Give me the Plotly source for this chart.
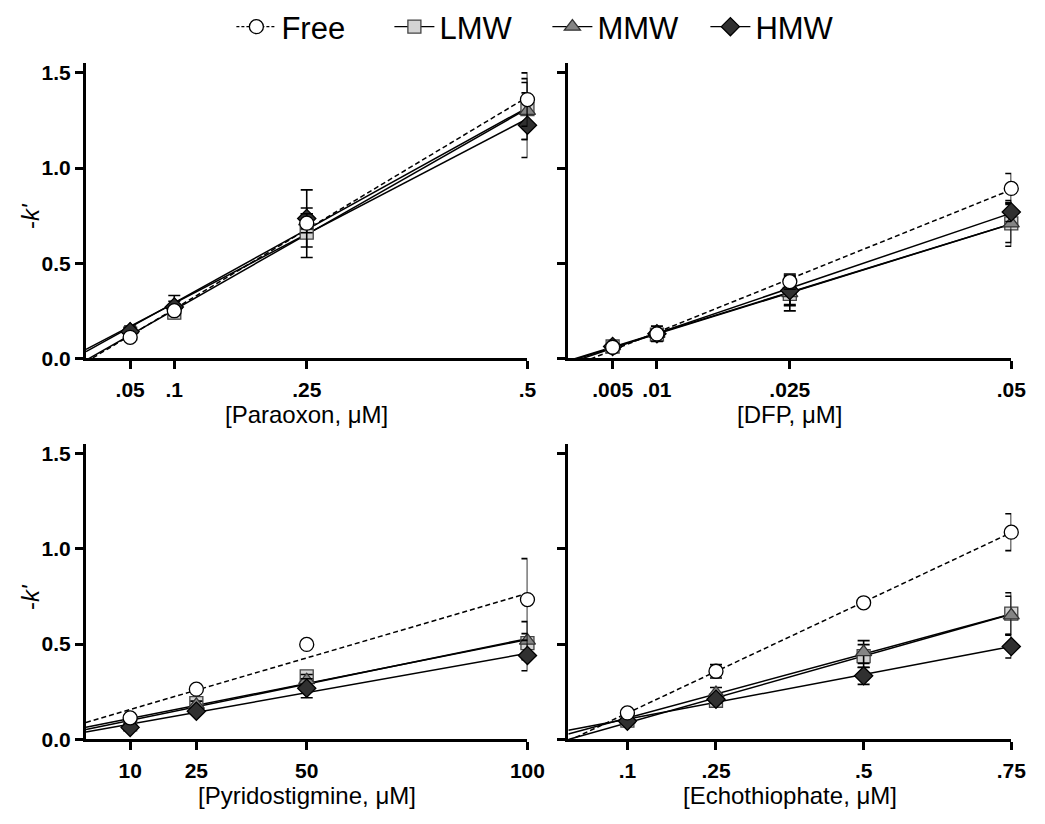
import numpy as np
import plotly.graph_objects as go

# Inhibitor concentrations (µM) and their tick labels
paraoxon_conc = [0.05, 0.1, 0.25, 0.5]
paraoxon_ticks = [".05", ".1", ".25", ".5"]
dfp_conc = [0.005, 0.01, 0.025, 0.05]
dfp_ticks = [".005", ".01", ".025", ".05"]
pyrido_conc = [10, 25, 50, 100]
pyrido_ticks = ["10", "25", "50", "100"]
echo_conc = [0.1, 0.25, 0.5, 0.75]
echo_ticks = [".1", ".25", ".5", ".75"]

# -k' means and SEM, paraoxon
paraoxon_free = [0.11, 0.25, 0.71, 1.36]
paraoxon_free_sem = [0.02, 0.02, 0.05, 0.14]
paraoxon_lmw = [0.13, 0.24, 0.66, 1.31]
paraoxon_lmw_sem = [0.02, 0.03, 0.13, 0.16]
paraoxon_mmw = [0.15, 0.28, 0.72, 1.30]
paraoxon_mmw_sem = [0.02, 0.05, 0.04, 0.15]
paraoxon_hmw = [0.14, 0.27, 0.735, 1.225]
paraoxon_hmw_sem = [0.02, 0.03, 0.15, 0.17]

# DFP
dfp_free = [0.058, 0.128, 0.403, 0.893]
dfp_free_sem = [0.01, 0.02, 0.04, 0.078]
dfp_lmw = [0.062, 0.124, 0.339, 0.709]
dfp_lmw_sem = [0.01, 0.015, 0.09, 0.12]
dfp_mmw = [0.064, 0.129, 0.342, 0.709]
dfp_mmw_sem = [0.01, 0.04, 0.06, 0.10]
dfp_hmw = [0.062, 0.129, 0.356, 0.769]
dfp_hmw_sem = [0.01, 0.02, 0.08, 0.05]

# Pyridostigmine
pyrido_free = [0.112, 0.263, 0.498, 0.734]
pyrido_free_sem = [0.01, 0.01, 0.01, 0.215]
pyrido_lmw = [0.078, 0.19, 0.33, 0.505]
pyrido_lmw_sem = [0.01, 0.02, 0.03, 0.05]
pyrido_mmw = [0.08, 0.18, 0.31, 0.518]
pyrido_mmw_sem = [0.01, 0.02, 0.03, 0.10]
pyrido_hmw = [0.062, 0.147, 0.268, 0.44]
pyrido_hmw_sem = [0.01, 0.01, 0.05, 0.08]

# Echothiophate
echo_free = [0.138, 0.357, 0.717, 1.088]
echo_free_sem = [0.01, 0.035, 0.01, 0.097]
echo_lmw = [0.098, 0.202, 0.437, 0.66]
echo_lmw_sem = [0.01, 0.03, 0.06, 0.11]
echo_mmw = [0.104, 0.242, 0.458, 0.651]
echo_mmw_sem = [0.01, 0.03, 0.06, 0.10]
echo_hmw = [0.095, 0.21, 0.333, 0.487]
echo_hmw_sem = [0.01, 0.02, 0.045, 0.06]

groups = ["Free", "LMW", "MMW", "HMW"]

FONT = "Liberation Sans, Arial, sans-serif"
W, H = 1045, 824

styles = {
    "Free": dict(symbol="circle", fill="white", line="#000000", size=14, dash="5px,3px", legdash="3px,2px"),
    "LMW": dict(symbol="square", fill="#d4d4d4", line="#444444", size=13, dash="solid", legdash="solid"),
    "MMW": dict(symbol="triangle-up", fill="#858585", line="#333333", size=14, dash="solid", legdash="solid"),
    "HMW": dict(symbol="diamond", fill="#303030", line="#000000", size=14, dash="solid", legdash="solid"),
}

# panel geometry in pixels: (left, right) and (top, bottom)
cols_px = [(87.5, 536.7), (578.3, 1029.0)]
rows_px = [(62.0, 362.0), (449.0, 749.0)]
YMAX = 1.552

panels = [
    dict(ax="", row=0, col=0, conc=paraoxon_conc, ticks=paraoxon_ticks, xr=[0, 0.5],
         title="[Paraoxon, μM]",
         data={"Free": (paraoxon_free, paraoxon_free_sem), "LMW": (paraoxon_lmw, paraoxon_lmw_sem),
               "MMW": (paraoxon_mmw, paraoxon_mmw_sem), "HMW": (paraoxon_hmw, paraoxon_hmw_sem)}),
    dict(ax="2", row=0, col=1, conc=dfp_conc, ticks=dfp_ticks, xr=[0, 0.05],
         title="[DFP, μM]",
         data={"Free": (dfp_free, dfp_free_sem), "LMW": (dfp_lmw, dfp_lmw_sem),
               "MMW": (dfp_mmw, dfp_mmw_sem), "HMW": (dfp_hmw, dfp_hmw_sem)}),
    dict(ax="3", row=1, col=0, conc=pyrido_conc, ticks=pyrido_ticks, xr=[0, 100],
         title="[Pyridostigmine, μM]",
         data={"Free": (pyrido_free, pyrido_free_sem), "LMW": (pyrido_lmw, pyrido_lmw_sem),
               "MMW": (pyrido_mmw, pyrido_mmw_sem), "HMW": (pyrido_hmw, pyrido_hmw_sem)}),
    dict(ax="4", row=1, col=1, conc=echo_conc, ticks=echo_ticks, xr=[0, 0.75],
         title="[Echothiophate, μM]",
         data={"Free": (echo_free, echo_free_sem), "LMW": (echo_lmw, echo_lmw_sem),
               "MMW": (echo_mmw, echo_mmw_sem), "HMW": (echo_hmw, echo_hmw_sem)}),
]

fig = go.Figure()
layout = dict(
    width=W, height=H, margin=dict(l=0, r=0, t=0, b=0),
    paper_bgcolor="white", plot_bgcolor="white",
    font=dict(family=FONT, color="black"),
    showlegend=True,
    legend=dict(orientation="h", x=0.533, xanchor="center", y=1 - 25 / H, yanchor="middle",
                font=dict(family=FONT, size=31, color="black"),
                itemwidth=40, entrywidth=103, entrywidthmode="pixels",
                tracegroupgap=0, bgcolor="rgba(0,0,0,0)"),
)
annotations = []

for p in panels:
    ax = p["ax"]
    x0, x1 = cols_px[p["col"]]
    y0, y1 = rows_px[p["row"]]
    xd = [x0 / W, x1 / W]
    yd = [1 - y1 / H, 1 - y0 / H]
    axis_style = dict(showline=True, linecolor="black", linewidth=3, ticks="outside",
                      ticklen=8, tickwidth=3, tickcolor="black", showgrid=False, zeroline=False,
                      tickfont=dict(family=FONT, size=21, color="black", weight="bold"))
    layout["xaxis" + ax] = dict(domain=xd, range=p["xr"], anchor="y" + ax,
                                tickvals=p["conc"], ticktext=p["ticks"],
                                ticklabelstandoff=3, **axis_style)
    layout["yaxis" + ax] = dict(domain=yd, range=[0, YMAX], anchor="x" + ax,
                                tickvals=[0, 0.5, 1.0, 1.5], ticktext=["0.0", "0.5", "1.0", "1.5"],
                                showticklabels=(p["col"] == 0), **axis_style)

    # linear regression lines across the axis span
    xs = np.array(p["xr"], dtype=float)
    for g in groups:
        vals, _ = p["data"][g]
        slope, intercept = np.polyfit(p["conc"], vals, 1)
        fig.add_trace(go.Scatter(x=xs, y=intercept + slope * xs, mode="lines",
                                 line=dict(color="black", width=1.5, dash=styles[g]["dash"]),
                                 xaxis="x" + ax, yaxis="y" + ax, showlegend=False,
                                 hoverinfo="skip"))
    # mean ± SEM points
    for g in ["LMW", "MMW", "HMW", "Free"]:
        vals, sem = p["data"][g]
        st = styles[g]
        fig.add_trace(go.Scatter(x=p["conc"], y=vals, mode="markers",
                                 marker=dict(symbol=st["symbol"], size=st["size"], color=st["fill"],
                                             line=dict(color=st["line"], width=1.3)),
                                 error_y=dict(type="data", array=sem, color="black",
                                              thickness=1.6, width=6),
                                 cliponaxis=False,
                                 xaxis="x" + ax, yaxis="y" + ax, showlegend=False))

    annotations.append(dict(text=p["title"], x=(x0 + x1) / 2 / W, y=1 - (y1 + 57) / H,
                            xref="paper", yref="paper", xanchor="center", yanchor="middle",
                            showarrow=False, font=dict(family=FONT, size=24, color="black")))
    if p["col"] == 0:
        annotations.append(dict(text="-<i>k'</i>", x=31 / W, y=1 - (y0 + 155) / H,
                                xref="paper", yref="paper", xanchor="center", yanchor="middle",
                                textangle=-90, showarrow=False,
                                font=dict(family=FONT, size=24, color="black")))

# legend entries
for g in groups:
    st = styles[g]
    fig.add_trace(go.Scatter(x=[None], y=[None], mode="lines+markers", name=g,
                             line=dict(color="black", width=1.3, dash=st["legdash"]),
                             marker=dict(symbol=st["symbol"], size=st["size"], color=st["fill"],
                                         line=dict(color=st["line"], width=1.3)),
                             xaxis="x", yaxis="y", showlegend=True))

layout["annotations"] = annotations
fig.update_layout(**layout)
fig.write_html("out.html")
